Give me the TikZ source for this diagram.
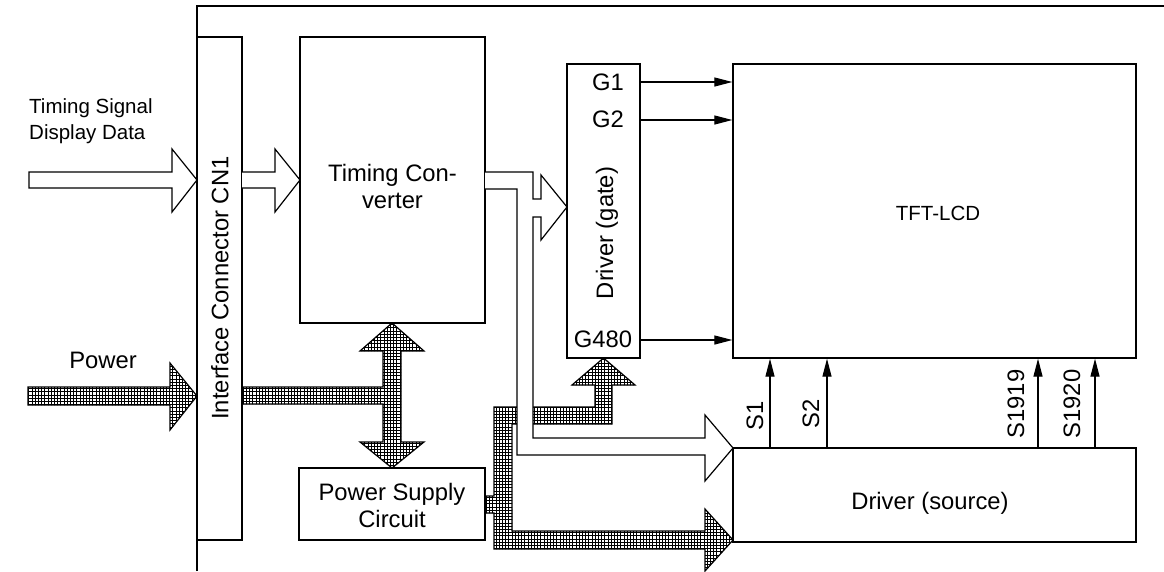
\documentclass[tikz,border=0pt]{standalone}
\usepackage{fontspec}
\setmainfont{Liberation Sans}
\usetikzlibrary{arrows.meta,patterns.meta}
\tikzdeclarepattern{
  name=pgrid,
  type=uncolored,
  bounding box={(-1pt,-1pt) and (4pt,4pt)},
  tile size={(3.2pt,3.2pt)},
  code={
    \draw[line width=1pt] (0pt,-1pt) -- (0pt,4pt) (-1pt,0pt) -- (4pt,0pt);
  }
}
\begin{document}
\begin{tikzpicture}[x=1pt,y=-1pt,
  box/.style={draw, line width=1.3pt, inner sep=0pt},
  lbl/.style={font=\fontsize{23.8}{27}\selectfont, inner sep=0pt, align=center},
  slbl/.style={font=\fontsize{20.5}{26}\selectfont, inner sep=0pt},
  sig/.style={line width=1.2pt, -{Triangle[length=18pt,width=9pt]}},
  hollow/.style={draw, fill=white, line width=1.2pt, line join=miter},
  power/.style={draw, line width=1.2pt, line join=miter, pattern=pgrid, pattern color=black},
]
\useasboundingbox (0,0) rectangle (1164,571);
\fill[white] (0,0) rectangle (1164,571);

% frame
\draw[line width=1.5pt] (197,571) -- (197,6) -- (1164,6);

% boxes
\node[box, minimum width=45pt, minimum height=503pt] (cn) at (219.5,288.5) {};
\node[box, minimum width=185pt, minimum height=286pt] (tc) at (392.5,180) {};
\node[box, minimum width=73pt, minimum height=294pt] (gate) at (603.5,211) {};
\node[box, minimum width=403pt, minimum height=294pt] (tft) at (934.5,211) {};
\node[box, minimum width=403pt, minimum height=94pt] (src) at (934.5,495) {};
\node[box, minimum width=186pt, minimum height=72pt] (psc) at (392,504) {};

% texts
\node[lbl, rotate=90] (cntext) at (220,288) {Interface Connector CN1};
\node[lbl] (tctext) at (392.5,186) {Timing Con-\\verter};
\node[lbl, rotate=90] (gatetext) at (607,233) {Driver (gate)};
\node[slbl] (tfttext) at (938,213) {TFT-LCD};
\node[lbl] (srctext) at (930,503) {Driver (source)};
\node[lbl] (psctext) at (392,505) {Power Supply\\Circuit};
\node[slbl, anchor=west, align=left] (tsig) at (29,121) {Timing Signal\\Display Data};
\node[lbl] (pwr) at (103,360) {Power};

% gate lines
\node[lbl] (g1) at (608,82) {G1};
\node[lbl] (g2) at (608,119) {G2};
\node[lbl] (g480) at (603,339) {G480};
\draw[sig] (g1 -| gate.east) -- (g1 -| tft.west);
\draw[sig] (0,120 -| gate.east) -- (0,120 -| tft.west);
\draw[sig] (0,340 -| gate.east) -- (0,340 -| tft.west);

% source lines
\coordinate (s1) at (770,400);
\coordinate (s2) at (827,400);
\coordinate (s1919) at (1038,400);
\coordinate (s1920) at (1095,400);
\foreach \s in {s1,s2,s1919,s1920}
  \draw[sig] (\s |- src.north) -- (\s |- tft.south);
\node[lbl, rotate=90] (s1t) at (755,416) {S1};
\node[lbl, rotate=90] (s2t) at (811,414) {S2};
\node[lbl, rotate=90] (s1919t) at (1016,404) {S1919};
\node[lbl, rotate=90] (s1920t) at (1072,404) {S1920};

% power arrows
\draw[power] (28,387) -- (170,387) -- (170,363) -- (197,396) -- (170,430) -- (170,405) -- (28,405) -- cycle;
\draw[power] (242,387) -- (383,387) -- (383,351) -- (360,351) -- (392,323) -- (424,351) -- (401,351)
  -- (401,442) -- (424,442) -- (392,468) -- (360,442) -- (383,442) -- (383,404) -- (242,404) -- cycle;
\draw[power] (485,496) -- (494,496) -- (494,407) -- (595,407) -- (595,385) -- (572,385) -- (603.5,358)
  -- (635,385) -- (612,385) -- (612,424) -- (512,424) -- (512,531) -- (705,531) -- (705,509)
  -- (733,540) -- (705,571) -- (705,549) -- (494,549) -- (494,513) -- (485,513) -- cycle;

% hollow signal arrows
\draw[hollow] (29,172) -- (172,172) -- (172,149) -- (197,180) -- (172,212) -- (172,188) -- (29,188) -- cycle;
\draw[hollow] (242,172) -- (275,172) -- (275,149) -- (300,180) -- (275,212) -- (275,188) -- (242,188);
\draw[hollow] (485,172) -- (533,172) -- (533,199) -- (541,199) -- (541,175) -- (567,207) -- (541,240)
  -- (541,217) -- (533,217) -- (533,438) -- (705,438) -- (705,415) -- (733,448) -- (705,481)
  -- (705,455) -- (517,455) -- (517,189) -- (485,189);
\end{tikzpicture}
\end{document}
